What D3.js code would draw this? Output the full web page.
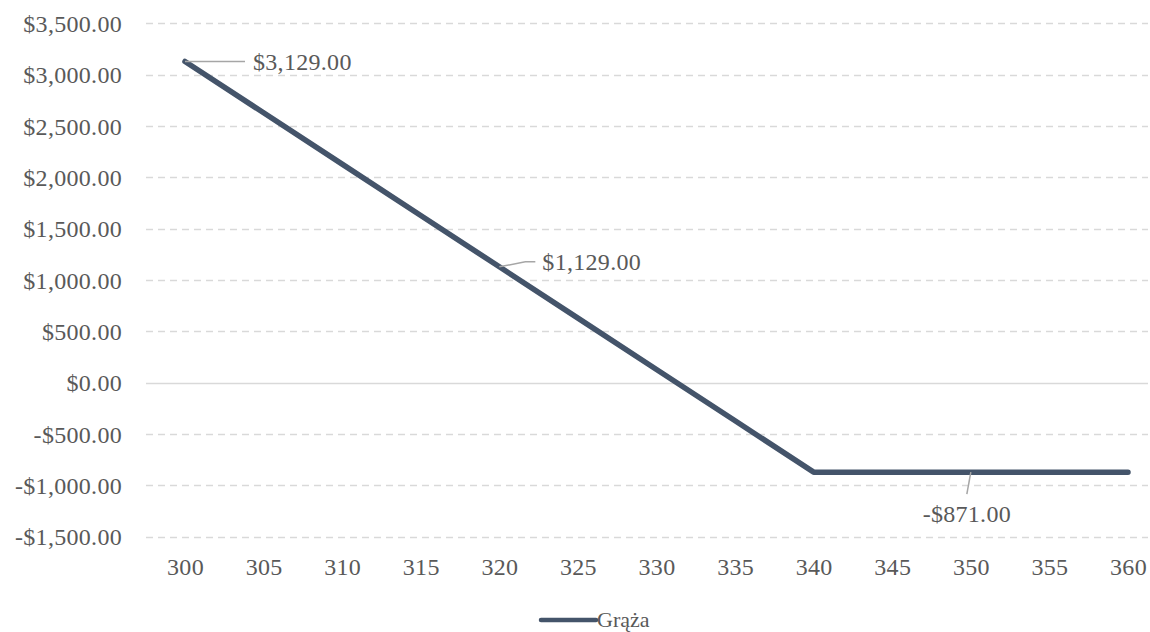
<!DOCTYPE html>
<html>
<head>
<meta charset="utf-8">
<script src="https://cdn.jsdelivr.net/npm/d3@7/dist/d3.min.js"></script>
<style>
  html, body { margin: 0; padding: 0; background: #fff; }
  svg { display: block; }
  text { font-family: "Liberation Serif", "DejaVu Serif", serif; fill: #595959; }
</style>
</head>
<body>
<svg id="chart" width="1150" height="632"></svg>
<script>
// Strike prices along the x axis
const strikes = [300, 305, 310, 315, 320, 325, 330, 335, 340, 345, 350, 355, 360];
// Profit / loss at each strike
const payoff = [3129, 2629, 2129, 1629, 1129, 629, 129, -371, -871, -871, -871, -871, -871];
// Y axis ticks
const yTicks = [-1500, -1000, -500, 0, 500, 1000, 1500, 2000, 2500, 3000, 3500];
// Points that carry a value label
const labelled = [300, 320, 350];
const seriesName = "Grąża";

const svg = d3.select("#chart");
const fontSize = 24;
const spacing = 0.3;
const lineColor = "#44546A";

const x = d3.scalePoint().domain(strikes).range([185, 1128]);
const y = d3.scaleLinear().domain([-1500, 3500]).range([536.7, 23.4]);

const gridLeft = 146, gridRight = 1148;

const money = v => (v < 0 ? "-$" : "$") + d3.format(",.2f")(Math.abs(v));

// horizontal gridlines
svg.append("g").selectAll("line").data(yTicks).join("line")
  .attr("x1", gridLeft).attr("x2", gridRight)
  .attr("y1", d => Math.round(y(d)) + 0.5).attr("y2", d => Math.round(y(d)) + 0.5)
  .attr("stroke", "#D9D9D9")
  .attr("stroke-width", 1.3)
  .attr("stroke-dasharray", d => d === 0 ? null : "7,5");

// y axis labels
const yAxis = d3.axisLeft(y).tickValues(yTicks).tickFormat(money).tickSize(0).tickPadding(0);
const gy = svg.append("g").attr("transform", "translate(122,0)").call(yAxis);
gy.select(".domain").remove();
gy.selectAll("text").attr("font-size", fontSize).attr("font-family", null).attr("fill", "#595959")
  .attr("letter-spacing", spacing).attr("dy", "0.34em");

// x axis labels
const xAxis = d3.axisBottom(x).tickSize(0).tickPadding(0);
const gx = svg.append("g").attr("transform", "translate(0,567)").call(xAxis);
gx.select(".domain").remove();
gx.selectAll("text").attr("font-size", fontSize).attr("font-family", null).attr("fill", "#595959")
  .attr("letter-spacing", spacing).attr("dy", "0.34em");

// payoff line
const pts = strikes.map((s, i) => ({ s, v: payoff[i] }));
svg.append("path")
  .datum(pts)
  .attr("fill", "none")
  .attr("stroke", lineColor)
  .attr("stroke-width", 5.5)
  .attr("stroke-linecap", "round")
  .attr("stroke-linejoin", "round")
  .attr("d", d3.line().x(d => x(d.s)).y(d => y(d.v)));

// data labels with leader lines
const labelCfg = {
  300: { leader: [[0, 0], [60, 0]], text: [68, 0], anchor: "start" },
  320: { leader: [[0, 0], [26, -5], [36, -5]], text: [43, -5], anchor: "start" },
  350: { leader: [[0, 0], [-4, 22]], text: [-4, 42], anchor: "middle" }
};
labelled.forEach(s => {
  const i = strikes.indexOf(s);
  const px = x(s), py = y(payoff[i]);
  const c = labelCfg[s];
  svg.append("path")
    .attr("d", d3.line()(c.leader.map(p => [px + p[0], py + p[1]])))
    .attr("fill", "none").attr("stroke", "#A6A6A6").attr("stroke-width", 1.5);
  svg.append("text")
    .attr("x", px + c.text[0]).attr("y", py + c.text[1])
    .attr("dy", "0.34em")
    .attr("text-anchor", c.anchor)
    .attr("font-size", fontSize)
    .attr("letter-spacing", spacing)
    .attr("fill", "#404040")
    .text(money(payoff[i]));
});

// legend
const lg = svg.append("g").attr("transform", "translate(541,620)");
lg.append("line").attr("x1", 0).attr("x2", 55).attr("y1", 0).attr("y2", 0)
  .attr("stroke", lineColor).attr("stroke-width", 4.5).attr("stroke-linecap", "round");
lg.append("text").attr("x", 56).attr("y", 0).attr("dy", "0.34em")
  .attr("font-size", 22).attr("fill", "#595959").text(seriesName);
</script>
</body>
</html>
